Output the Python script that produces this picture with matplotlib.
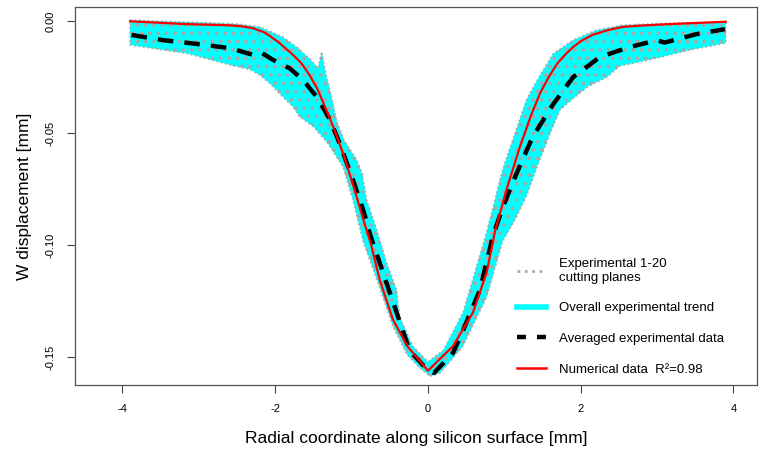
import matplotlib
matplotlib.use("Agg")
import matplotlib.pyplot as plt
from matplotlib.lines import Line2D
import numpy as np

plt.rcParams['font.family'] = ['Liberation Sans', 'DejaVu Sans']

# numerical model (red)
x_num = [-3.9, -3.2, -2.6, -2.45, -2.3, -2.15, -2.07, -1.95, -1.85, -1.75, -1.65, -1.55, -1.45,
         -1.35, -1.24, -1.1, -0.98, -0.85, -0.75, -0.63, -0.46, -0.27, 0.0, 0.33, 0.59, 0.77,
         0.88, 1.03, 1.2, 1.35, 1.47, 1.58, 1.69, 1.8, 1.9, 2.02, 2.16, 2.35, 2.55, 2.85, 3.2, 3.9]
w_num = [0.0, -0.0012, -0.0018, -0.0022, -0.003, -0.0048, -0.0065, -0.0095, -0.0125, -0.0155, -0.019, -0.024, -0.030,
         -0.038, -0.047, -0.060, -0.073, -0.088, -0.099, -0.1155, -0.133, -0.145, -0.156, -0.145, -0.130, -0.112,
         -0.0935, -0.075, -0.0565, -0.042, -0.032, -0.025, -0.019, -0.0148, -0.0115, -0.0085, -0.006, -0.004, -0.0025, -0.0018, -0.0012, -0.0002]

# averaged experimental data (black dashed)
x_avg = [-3.88, -3.47, -3.03, -2.59, -2.29, -2.18, -2.03, -1.81, -1.64, -1.45, -1.28, -1.15,
         -0.98, -0.85, -0.75, -0.59, -0.41, -0.24, -0.065, 0.08, 0.33, 0.46, 0.68, 0.85,
         0.98, 1.16, 1.37, 1.64, 1.9, 2.25, 2.64, 3.0, 3.1, 3.52, 3.89]
w_avg = [-0.0061, -0.0084, -0.0101, -0.012, -0.015, -0.014, -0.0172, -0.021, -0.026, -0.034, -0.044, -0.055,
         -0.071, -0.084, -0.096, -0.112, -0.130, -0.147, -0.1535, -0.157, -0.148, -0.138, -0.120, -0.096,
         -0.083, -0.068, -0.0517, -0.037, -0.025, -0.016, -0.0115, -0.0085, -0.0095, -0.0057, -0.0035]

# envelope of the 20 cutting planes (upper / lower edge)
x_hi = [-3.9, -3.0, -2.5, -2.2, -1.9, -1.7, -1.54, -1.44, -1.39, -1.34, -1.28, -1.19, -1.1,
        -0.93, -0.86, -0.8, -0.67, -0.54, -0.41, -0.37, -0.2, 0.0, 0.2, 0.46, 0.65, 0.77,
        0.98, 1.29, 1.47, 1.64, 1.9, 2.2, 2.55, 3.2, 3.9]
w_hi = [0.0005, -0.0005, -0.0012, -0.0025, -0.007, -0.012, -0.017, -0.021, -0.0136, -0.023, -0.031, -0.045, -0.053,
        -0.062, -0.068, -0.080, -0.093, -0.108, -0.120, -0.132, -0.145, -0.152, -0.147, -0.130, -0.108, -0.094,
        -0.066, -0.035, -0.024, -0.0145, -0.0084, -0.004, -0.0017, -0.0008, -0.0002]
x_lo = [-3.9, -3.16, -2.59, -2.33, -2.2, -2.07, -1.9, -1.77, -1.68, -1.5, -1.32, -1.11, -0.98,
        -0.85, -0.63, -0.46, -0.27, -0.1, 0.03, 0.16, 0.46, 0.77, 0.98, 1.15, 1.29, 1.44,
        1.6, 1.73, 1.9, 2.1, 2.34, 2.51, 2.99, 3.43, 3.9]
w_lo = [-0.0106, -0.0143, -0.0195, -0.0215, -0.024, -0.0277, -0.0337, -0.038, -0.0426, -0.047, -0.054, -0.065, -0.080,
        -0.098, -0.119, -0.136, -0.149, -0.155, -0.1585, -0.157, -0.145, -0.123, -0.098, -0.088, -0.078, -0.064,
        -0.050, -0.0395, -0.0345, -0.029, -0.025, -0.020, -0.0165, -0.0128, -0.0097]

xticks = [-4, -2, 0, 2, 4]
yticks = [0.0, -0.05, -0.10, -0.15]
ytick_labels = ["0.00", "-0.05", "-0.10", "-0.15"]

fig = plt.figure(figsize=(7.71, 4.5), dpi=100)
ax = fig.add_axes([0.0973, 0.1444, 0.8847, 0.8394])

# band: cyan with grey dotted texture
poly_x = np.concatenate([x_hi, x_lo[::-1]])
poly_y = np.concatenate([w_hi, w_lo[::-1]])
plt.rcParams['hatch.linewidth'] = 1.5
ax.fill(poly_x, poly_y, facecolor='#00ffff', edgecolor='#a8a8a8', hatch='..',
        linewidth=1.2, linestyle=':', zorder=1)

ax.plot(x_avg, w_avg, color='black', lw=3.2, dashes=(3.5, 2.5), zorder=3)
ax.plot(x_num, w_num, color='#ff0000', lw=1.6, zorder=4)

ax.set_xlim(-4.62, 4.31)
ax.set_ylim(-0.1624, 0.00625)
ax.set_xticks(xticks)
ax.set_xticklabels([str(t) for t in xticks])
ax.set_yticks(yticks)
ax.set_yticklabels(ytick_labels, rotation=90, va='center')
ax.tick_params(axis='both', direction='out', length=6, width=0.8, color='#444444',
               labelsize=8, pad=8)
for s in ax.spines.values():
    s.set_color('#555555')
    s.set_linewidth(0.9)

ax.set_xlabel("Radial coordinate along silicon surface [mm]", fontsize=12.5, labelpad=12)
ax.set_ylabel("W displacement [mm]", fontsize=12.5, labelpad=10)

handles = [
    Line2D([], [], color='#aaaaaa', lw=2, ls=':'),
    Line2D([], [], color='#00ffff', lw=4),
    Line2D([], [], color='black', lw=3.2, dashes=(2, 2.5)),
    Line2D([], [], color='#ff0000', lw=1.8),
]
labels = ["Experimental 1-20\ncutting planes", "Overall experimental trend",
          "Averaged experimental data", "Numerical data  R²=0.98"]
ax.legend(handles, labels, loc='lower left', bbox_to_anchor=(0.63, -0.007), frameon=False,
          fontsize=9.5, handlelength=2.2, handletextpad=1.0, labelspacing=1.4)

fig.savefig("out.png", dpi=100)
